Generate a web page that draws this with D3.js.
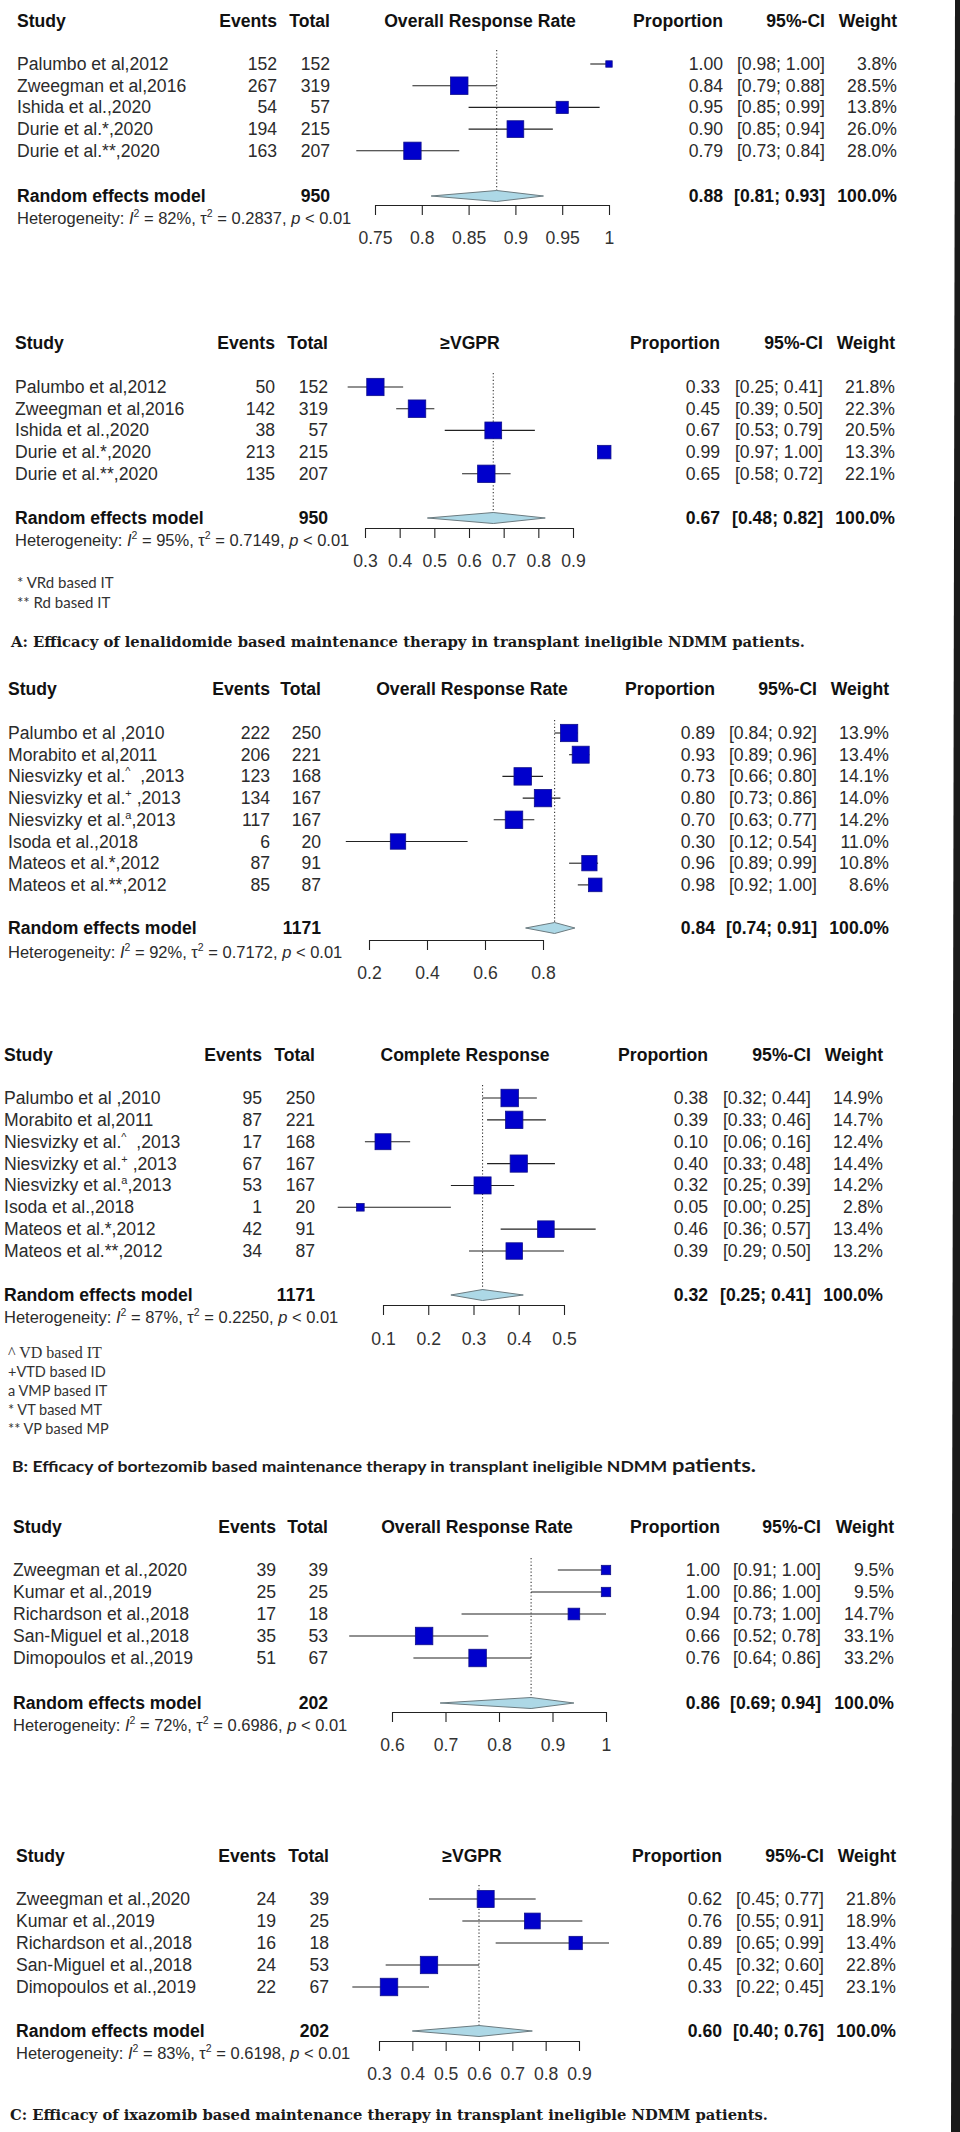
<!DOCTYPE html>
<html><head><meta charset="utf-8">
<script src="https://cdn.jsdelivr.net/npm/d3@7"></script>
<style>html,body{margin:0;padding:0;background:#fff;overflow:hidden} svg{display:block}</style>
</head><body>
<svg id="c" width="960" height="2132"></svg>
<script>
// ================= DATA =================
// A1: lenalidomide – Overall Response Rate
const a1Studies = ["Palumbo et al,2012","Zweegman et al,2016","Ishida et al.,2020","Durie et al.*,2020","Durie et al.**,2020"];
const a1Events  = [152,267,54,194,163];
const a1Totals  = [152,319,57,215,207];
const a1Prop    = [1.00,0.84,0.95,0.90,0.79];
const a1Lower   = [0.98,0.79,0.85,0.85,0.73];
const a1Upper   = [1.00,0.88,0.99,0.94,0.84];
const a1Weight  = [3.8,28.5,13.8,26.0,28.0];
const a1Summary = [0.88,0.81,0.93];
const a1N = 950;
const a1Het = ["82%","0.2837","< 0.01"];
const a1Ticks = [0.75,0.8,0.85,0.9,0.95,1];

// A2: lenalidomide – ≥VGPR
const a2Studies = a1Studies;
const a2Events  = [50,142,38,213,135];
const a2Totals  = [152,319,57,215,207];
const a2Prop    = [0.33,0.45,0.67,0.99,0.65];
const a2Lower   = [0.25,0.39,0.53,0.97,0.58];
const a2Upper   = [0.41,0.50,0.79,1.00,0.72];
const a2Weight  = [21.8,22.3,20.5,13.3,22.1];
const a2Summary = [0.67,0.48,0.82];
const a2N = 950;
const a2Het = ["95%","0.7149","< 0.01"];
const a2Ticks = [0.3,0.4,0.5,0.6,0.7,0.8,0.9];

// B1: bortezomib – Overall Response Rate
const b1Studies = ["Palumbo et al ,2010","Morabito et al,2011","Niesvizky et al.{^}  ,2013","Niesvizky et al.{+} ,2013","Niesvizky et al.{a},2013","Isoda et al.,2018","Mateos et al.*,2012","Mateos et al.**,2012"];
const b1Events  = [222,206,123,134,117,6,87,85];
const b1Totals  = [250,221,168,167,167,20,91,87];
const b1Prop    = [0.89,0.93,0.73,0.80,0.70,0.30,0.96,0.98];
const b1Lower   = [0.84,0.89,0.66,0.73,0.63,0.12,0.89,0.92];
const b1Upper   = [0.92,0.96,0.80,0.86,0.77,0.54,0.99,1.00];
const b1Weight  = [13.9,13.4,14.1,14.0,14.2,11.0,10.8,8.6];
const b1Summary = [0.84,0.74,0.91];
const b1N = 1171;
const b1Het = ["92%","0.7172","< 0.01"];
const b1Ticks = [0.2,0.4,0.6,0.8];

// B2: bortezomib – Complete Response
const b2Studies = b1Studies;
const b2Events  = [95,87,17,67,53,1,42,34];
const b2Totals  = [250,221,168,167,167,20,91,87];
const b2Prop    = [0.38,0.39,0.10,0.40,0.32,0.05,0.46,0.39];
const b2Lower   = [0.32,0.33,0.06,0.33,0.25,0.00,0.36,0.29];
const b2Upper   = [0.44,0.46,0.16,0.48,0.39,0.25,0.57,0.50];
const b2Weight  = [14.9,14.7,12.4,14.4,14.2,2.8,13.4,13.2];
const b2Summary = [0.32,0.25,0.41];
const b2N = 1171;
const b2Het = ["87%","0.2250","< 0.01"];
const b2Ticks = [0.1,0.2,0.3,0.4,0.5];

// C1: ixazomib – Overall Response Rate
const c1Studies = ["Zweegman et al.,2020","Kumar et al.,2019","Richardson et al.,2018","San-Miguel et al.,2018","Dimopoulos et al.,2019"];
const c1Events  = [39,25,17,35,51];
const c1Totals  = [39,25,18,53,67];
const c1Prop    = [1.00,1.00,0.94,0.66,0.76];
const c1Lower   = [0.91,0.86,0.73,0.52,0.64];
const c1Upper   = [1.00,1.00,1.00,0.78,0.86];
const c1Weight  = [9.5,9.5,14.7,33.1,33.2];
const c1Summary = [0.86,0.69,0.94];
const c1N = 202;
const c1Het = ["72%","0.6986","< 0.01"];
const c1Ticks = [0.6,0.7,0.8,0.9,1];

// C2: ixazomib – ≥VGPR
const c2Studies = c1Studies;
const c2Events  = [24,19,16,24,22];
const c2Totals  = [39,25,18,53,67];
const c2Prop    = [0.62,0.76,0.89,0.45,0.33];
const c2Lower   = [0.45,0.55,0.65,0.32,0.22];
const c2Upper   = [0.77,0.91,0.99,0.60,0.45];
const c2Weight  = [21.8,18.9,13.4,22.8,23.1];
const c2Summary = [0.60,0.40,0.76];
const c2N = 202;
const c2Het = ["83%","0.6198","< 0.01"];
const c2Ticks = [0.3,0.4,0.5,0.6,0.7,0.8,0.9];

const outcomeTitles = ["Overall Response Rate","\u2265VGPR","Overall Response Rate","Complete Response","Overall Response Rate","\u2265VGPR"];
const footA = ["* VRd based IT","** Rd based IT"];
const footB = ["^ VD based IT","+VTD based ID","a VMP based IT","* VT based MT","** VP based MP"];
const titleA = "A: Efficacy of lenalidomide based maintenance therapy in transplant ineligible NDMM patients.";
const titleB = ["B: Efficacy of bortezomib based maintenance therapy in transplant ineligible NDMM","patients."];
const titleC = "C: Efficacy of ixazomib based maintenance therapy in transplant ineligible NDMM patients.";

// ================= DRAWING =================
const svg = d3.select("#c");
svg.append("rect").attr("width",960).attr("height",2132).attr("fill","#fff");

const FONT = "'Liberation Sans', Arial, Helvetica, sans-serif";
const FS = 17.6;
const f2 = d3.format(".2f"), f1 = d3.format(".1f");

function txt(g, x, y, s, o = {}) {
  const t = g.append("text")
    .attr("x", x).attr("y", y)
    .attr("font-family", o.family || FONT)
    .attr("font-size", o.size || FS)
    .attr("font-weight", o.bold ? "bold" : "normal")
    .attr("fill", o.fill || (o.bold ? "#111" : "#2b2b2b"))
    .attr("text-anchor", o.anchor || "start")
    .style("white-space", "pre");
  if (o.len) t.attr("textLength", o.len).attr("lengthAdjust", "spacingAndGlyphs");
  if (s !== null) t.text(s);
  return t;
}

function studyLabel(g, x, y, s) {
  const t = txt(g, x, y, null);
  const parts = s.split(/\{(.*?)\}/);
  let raised = false;
  parts.forEach((p, i) => {
    if (i % 2 === 1) {
      t.append("tspan").attr("dy", -7).attr("font-size", 11).text(p);
      raised = true;
    } else if (p) {
      const ts = t.append("tspan").text(p);
      if (raised) { ts.attr("dy", 7); raised = false; }
    }
  });
}

function hetText(g, x, y, h) {
  const t = txt(g, x, y, null, {size: 16.5});
  t.append("tspan").text("Heterogeneity: ");
  t.append("tspan").attr("font-style", "italic").text("I");
  t.append("tspan").attr("dy", -7).attr("font-size", 10.5).text("2");
  t.append("tspan").attr("dy", 7).text(" = " + h[0] + ", \u03c4");
  t.append("tspan").attr("dy", -7).attr("font-size", 10.5).text("2");
  t.append("tspan").attr("dy", 7).text(" = " + h[1] + ", ");
  t.append("tspan").attr("font-style", "italic").text("p");
  t.append("tspan").text(" " + h[2]);
}

function panel(c, d) {
  const g = svg.append("g");
  const B = 6; // center -> baseline offset
  const x = d3.scaleLinear().domain(d3.extent(d.ticks)).range([c.ax0, c.ax1]);
  const size = d3.scaleSqrt().domain([0, d3.max(d.weight)]).range([0, 17.5]);
  const rowY = i => c.row0 + i * c.step;

  // headers
  txt(g, c.studyX, c.headY + B, "Study", {bold: true});
  txt(g, c.eventsR, c.headY + B, "Events", {bold: true, anchor: "end"});
  txt(g, c.totalR, c.headY + B, "Total", {bold: true, anchor: "end"});
  txt(g, c.plotC, c.headY + B, d.title, {bold: true, anchor: "middle"});
  txt(g, c.propR, c.headY + B, "Proportion", {bold: true, anchor: "end"});
  txt(g, c.ciR, c.headY + B, "95%-CI", {bold: true, anchor: "end"});
  txt(g, c.weightR, c.headY + B, "Weight", {bold: true, anchor: "end"});

  // dotted line at pooled estimate
  g.append("line")
    .attr("x1", x(d.summary[0])).attr("x2", x(d.summary[0]))
    .attr("y1", c.dotTop).attr("y2", c.reY - 5)
    .attr("stroke", "#333").attr("stroke-width", 1.1)
    .attr("stroke-dasharray", "1.2,2.2");

  // study rows
  d.studies.forEach((s, i) => {
    const y = rowY(i);
    studyLabel(g, c.studyX, y + B, s);
    txt(g, c.eventsR, y + B, String(d.events[i]), {anchor: "end"});
    txt(g, c.totalR, y + B, String(d.totals[i]), {anchor: "end"});
    txt(g, c.propR, y + B, f2(d.prop[i]), {anchor: "end"});
    txt(g, c.ciR, y + B, "[" + f2(d.lower[i]) + "; " + f2(d.upper[i]) + "]", {anchor: "end"});
    txt(g, c.weightR, y + B, f1(d.weight[i]) + "%", {anchor: "end"});
    g.append("line")
      .attr("x1", x(d.lower[i])).attr("x2", x(d.upper[i]))
      .attr("y1", y).attr("y2", y)
      .attr("stroke", "#222").attr("stroke-width", 1.1);
    const sz = size(d.weight[i]);
    g.append("rect")
      .attr("x", x(d.prop[i]) - sz / 2).attr("y", y - sz / 2)
      .attr("width", sz).attr("height", sz)
      .attr("fill", "#0000cc").attr("stroke", "#10108a").attr("stroke-width", 0.8);
  });

  // pooled row
  const ry = c.reY;
  txt(g, c.studyX, ry + B, "Random effects model", {bold: true});
  txt(g, c.totalR, ry + B, String(d.n), {bold: true, anchor: "end"});
  txt(g, c.propR, ry + B, f2(d.summary[0]), {bold: true, anchor: "end"});
  txt(g, c.ciR, ry + B, "[" + f2(d.summary[1]) + "; " + f2(d.summary[2]) + "]", {bold: true, anchor: "end"});
  txt(g, c.weightR, ry + B, "100.0%", {bold: true, anchor: "end"});
  const dia = [[x(d.summary[1]), ry], [x(d.summary[0]), ry - 5.5], [x(d.summary[2]), ry], [x(d.summary[0]), ry + 5.5]];
  g.append("polygon")
    .attr("points", dia.map(p => p.join(",")).join(" "))
    .attr("fill", "#add8e6").attr("stroke", "#6b7b80").attr("stroke-width", 1);

  hetText(g, c.studyX, c.hetY + B, d.het);

  // axis
  const ax = g.append("g").attr("transform", `translate(0,${c.axisY})`)
    .call(d3.axisBottom(x).tickValues(d.ticks).tickSize(10).tickPadding(c.tickPad || 17)
      .tickSizeOuter(0).tickFormat(v => String(v)));
  ax.attr("font-family", FONT).attr("font-size", FS);
  ax.select(".domain").attr("stroke", "#222").attr("stroke-width", 1.1);
  ax.selectAll(".tick line").attr("stroke", "#222").attr("stroke-width", 1.1);
  ax.selectAll(".tick text").attr("fill", "#333");
}

const pA1 = {studyX:17, eventsR:277, totalR:330, plotC:480, propR:723, ciR:825, weightR:897,
  headY:21, row0:64, step:21.7, reY:196, hetY:218, axisY:205, ax0:375, ax1:609, dotTop:50};
const pA2 = {studyX:15, eventsR:275, totalR:328, plotC:470, propR:720, ciR:823, weightR:895,
  headY:343, row0:387, step:21.7, reY:518, hetY:540, axisY:528, ax0:365, ax1:573, dotTop:373};
const pB1 = {studyX:8, eventsR:270, totalR:321, plotC:472, propR:715, ciR:817, weightR:889,
  headY:689, row0:733, step:21.7, reY:928, hetY:952, axisY:940, ax0:369, ax1:543, dotTop:720};
const pB2 = {studyX:4, eventsR:262, totalR:315, plotC:465, propR:708, ciR:811, weightR:883,
  headY:1055, row0:1098, step:21.86, reY:1295, hetY:1317, axisY:1305, ax0:383, ax1:564, dotTop:1085, tickPad:18};
const pC1 = {studyX:13, eventsR:276, totalR:328, plotC:477, propR:720, ciR:821, weightR:894,
  headY:1527, row0:1570, step:22, reY:1703, hetY:1725, axisY:1712, ax0:392, ax1:606, dotTop:1558};
const pC2 = {studyX:16, eventsR:276, totalR:329, plotC:472, propR:722, ciR:824, weightR:896,
  headY:1856, row0:1899, step:22, reY:2031, hetY:2053, axisY:2041, ax0:379, ax1:579, dotTop:1885};

panel(pA1, {title: outcomeTitles[0], studies: a1Studies, events: a1Events, totals: a1Totals, prop: a1Prop, lower: a1Lower, upper: a1Upper, weight: a1Weight, summary: a1Summary, n: a1N, het: a1Het, ticks: a1Ticks});
panel(pA2, {title: outcomeTitles[1], studies: a2Studies, events: a2Events, totals: a2Totals, prop: a2Prop, lower: a2Lower, upper: a2Upper, weight: a2Weight, summary: a2Summary, n: a2N, het: a2Het, ticks: a2Ticks});
panel(pB1, {title: outcomeTitles[2], studies: b1Studies, events: b1Events, totals: b1Totals, prop: b1Prop, lower: b1Lower, upper: b1Upper, weight: b1Weight, summary: b1Summary, n: b1N, het: b1Het, ticks: b1Ticks});
panel(pB2, {title: outcomeTitles[3], studies: b2Studies, events: b2Events, totals: b2Totals, prop: b2Prop, lower: b2Lower, upper: b2Upper, weight: b2Weight, summary: b2Summary, n: b2N, het: b2Het, ticks: b2Ticks});
panel(pC1, {title: outcomeTitles[4], studies: c1Studies, events: c1Events, totals: c1Totals, prop: c1Prop, lower: c1Lower, upper: c1Upper, weight: c1Weight, summary: c1Summary, n: c1N, het: c1Het, ticks: c1Ticks});
panel(pC2, {title: outcomeTitles[5], studies: c2Studies, events: c2Events, totals: c2Totals, prop: c2Prop, lower: c2Lower, upper: c2Upper, weight: c2Weight, summary: c2Summary, n: c2N, het: c2Het, ticks: c2Ticks});

// footnotes
const notes = svg.append("g");
const NOTEFONT = "Lato, 'Open Sans', sans-serif";
footA.forEach((s, i) => txt(notes, 17, 588 + i * 20, s, {family: NOTEFONT, size: 15, fill: "#333"}));
footB.forEach((s, i) => txt(notes, 8, 1358 + i * 19, s,
  i === 0 ? {family: "'Liberation Serif', 'Times New Roman', serif", size: 16, fill: "#333"}
          : {family: NOTEFONT, size: 14.5, fill: "#333"}));

// panel titles
const SERIF = "'DejaVu Serif', 'Liberation Serif', serif";
txt(notes, 11, 647, titleA, {family: SERIF, size: 14.5, bold: true, fill: "#1a1a1a", len: 794});
txt(notes, 12, 1472, titleB[0], {family: NOTEFONT, size: 15, bold: true, fill: "#1a1a1a", len: 655});
txt(notes, 672, 1472, titleB[1], {family: NOTEFONT, size: 18, bold: true, fill: "#1a1a1a", len: 84});
txt(notes, 10, 2120, titleC, {family: SERIF, size: 14.5, bold: true, fill: "#1a1a1a", len: 758});

// dark right border strip
svg.append("polygon").attr("points", "955,0 960,0 960,2132 951,2132").attr("fill", "#1a1a1a");
</script>
</body></html>
